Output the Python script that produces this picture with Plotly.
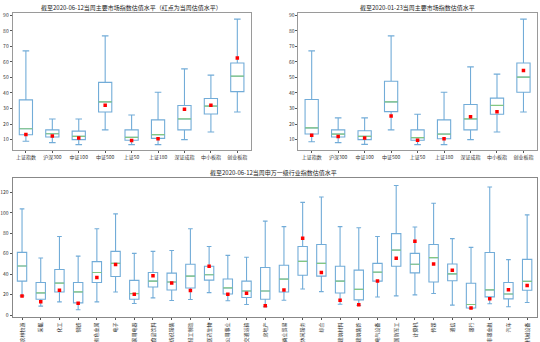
import plotly.graph_objects as go

# ---------------- data ----------------
index_names = ["上证指数", "沪深300", "中证100", "中证500", "上证50", "上证180", "深证成指", "中小板指", "创业板指"]

# 2020-06-12
a_low = [9.0, 8.1, 6.8, 16.3, 6.8, 6.8, 10.0, 14.9, 27.8]
a_q1 = [13.2, 11.7, 10.0, 27.8, 9.6, 10.8, 16.3, 26.5, 40.9]
a_med = [17.0, 13.8, 12.1, 34.3, 11.5, 13.2, 23.3, 31.6, 50.8]
a_q3 = [35.6, 16.3, 15.5, 46.8, 16.3, 22.7, 32.0, 36.5, 59.3]
a_high = [67.1, 23.3, 23.3, 76.7, 25.9, 40.5, 55.5, 51.5, 87.5]
a_cur = [13.4, 12.3, 11.0, 32.2, 9.4, 10.6, 29.5, 32.2, 62.5]

# 2020-01-23
b_low = [8.7, 8.1, 7.0, 16.3, 6.8, 6.8, 10.0, 14.9, 27.8]
b_q1 = [13.6, 11.7, 10.0, 28.0, 9.6, 10.6, 16.3, 26.3, 40.5]
b_med = [17.6, 13.6, 12.1, 34.3, 11.3, 13.6, 23.3, 32.0, 50.2]
b_q3 = [35.8, 16.3, 15.7, 47.5, 16.3, 22.7, 32.6, 36.7, 59.3]
b_high = [67.1, 24.0, 24.0, 76.7, 26.3, 40.5, 56.8, 52.1, 87.5]
b_cur = [12.8, 12.1, 11.0, 25.2, 9.6, 10.6, 24.8, 28.0, 54.4]

industries = ["农林牧渔", "采掘", "化工", "钢铁", "有色金属", "电子", "家用电器", "食品饮料",
              "纺织服装", "轻工制造", "医药生物", "公用事业", "交通运输", "房地产", "商业贸易",
              "休闲服务", "综合", "建筑材料", "建筑装饰", "电气设备", "国防军工", "计算机",
              "传媒", "通信", "银行", "非银金融", "汽车", "机械设备"]
c_low = [18.7, 8.7, 12.9, 5.2, 12.9, 22.6, 11.3, 16.8, 14.2, 15.2, 21.9, 13.9, 10.3, 8.1,
         14.5, 25.5, 22.9, 10.6, 9.4, 17.7, 18.7, 19.7, 21.0, 9.7, 6.5, 11.0, 8.1, 12.3]
c_q1 = [33.2, 15.5, 22.6, 11.9, 31.9, 37.7, 15.5, 27.4, 24.5, 26.5, 34.2, 20.6, 17.1, 15.5,
        22.6, 39.0, 38.1, 21.6, 14.8, 33.2, 47.7, 41.3, 32.3, 33.5, 6.8, 17.8, 15.8, 24.2]
c_med = [48.0, 21.6, 31.3, 22.6, 41.6, 50.6, 21.0, 33.2, 32.3, 38.1, 39.4, 26.5, 23.5, 23.5,
         35.2, 52.6, 50.6, 33.2, 25.2, 41.9, 63.6, 49.7, 56.1, 40.3, 10.3, 24.6, 20.6, 32.9]
c_q3 = [61.3, 31.9, 44.5, 31.9, 52.3, 62.3, 33.9, 41.6, 41.0, 49.7, 47.7, 35.2, 33.2, 46.5,
        48.7, 67.1, 69.0, 47.7, 43.9, 50.6, 79.7, 60.3, 69.0, 50.0, 31.1, 61.2, 31.9, 54.5]
c_high = [103.9, 55.8, 76.8, 57.7, 84.5, 99.0, 60.3, 62.3, 63.2, 84.5, 67.1, 58.4, 56.5, 91.9,
          86.5, 110.3, 115.5, 86.5, 85.5, 76.8, 126.8, 86.1, 109.4, 74.8, 66.2, 125.3, 54.2, 98.0]
c_cur = [18.7, 12.9, 24.2, 11.6, 36.8, 49.4, 20.3, 38.4, 31.3, 23.9, 47.7, 20.3, 21.3, 9.0,
         24.5, 75.2, 41.6, 14.5, 10.0, 33.2, 55.5, 72.3, 50.0, 43.9, 6.8, 15.9, 24.8, 29.0]

title_a = "截至2020-06-12当周主要市场指数估值水平（红点为当周估值水平）"
title_b = "截至2020-01-23当周主要市场指数估值水平"
title_c = "截至2020-06-12当周申万一级行业指数估值水平"

# ---------------- style ----------------
BOX_COLOR = "#72acd8"
MED_COLOR = "#82c782"
DOT_COLOR = "#ff0000"
FONT = "Noto Sans CJK SC"

fig = go.Figure()


def add_panel(cats, low, q1, med, q3, high, cur, xa, ya):
    fig.add_trace(go.Box(
        x=cats, q1=q1, median=med, q3=q3, lowerfence=low, upperfence=high,
        boxpoints=False, width=0.5, whiskerwidth=0.5,
        line=dict(color=BOX_COLOR, width=1.1), fillcolor="rgba(255,255,255,0)",
        xaxis=xa, yaxis=ya, showlegend=False, hoverinfo="skip"))
    # median line drawn as a flat box
    fig.add_trace(go.Box(
        x=cats, q1=med, median=med, q3=med, lowerfence=med, upperfence=med,
        boxpoints=False, width=0.5, whiskerwidth=0,
        line=dict(color=MED_COLOR, width=1.2), fillcolor="rgba(255,255,255,0)",
        xaxis=xa, yaxis=ya, showlegend=False, hoverinfo="skip"))
    fig.add_trace(go.Scatter(
        x=cats, y=cur, mode="markers",
        marker=dict(color=DOT_COLOR, size=3.5, symbol="square"),
        xaxis=xa, yaxis=ya, showlegend=False, hoverinfo="skip"))


add_panel(index_names, a_low, a_q1, a_med, a_q3, a_high, a_cur, "x", "y")
add_panel(index_names, b_low, b_q1, b_med, b_q3, b_high, b_cur, "x2", "y2")
add_panel(industries, c_low, c_q1, c_med, c_q3, c_high, c_cur, "x3", "y3")

W, H = 540, 342


def px_x(a, b):
    return [a / W, b / W]


def px_y(top, bottom):
    return [(H - bottom) / H, (H - top) / H]


axis_common = dict(showgrid=False, zeroline=False, showline=True, mirror=True,
                   linecolor="#9a9a9a", linewidth=1, ticks="outside", ticklen=2,
                   tickcolor="#555", tickfont=dict(size=5, color="#333", family=FONT))

fig.update_layout(
    width=W, height=H, autosize=False,
    margin=dict(l=0, r=0, t=0, b=0),
    paper_bgcolor="white", plot_bgcolor="white",
    boxmode="overlay",
    font=dict(family=FONT, color="#222"),
    xaxis=dict(domain=px_x(11.7, 250), anchor="y", type="category",
               range=[-0.5, len(index_names) - 0.5], **axis_common),
    yaxis=dict(domain=px_y(11, 150), anchor="x", range=[3.2, 91.5],
               tickvals=list(range(10, 91, 10)), **axis_common),
    xaxis2=dict(domain=px_x(298, 536.7), anchor="y2", type="category",
                range=[-0.5, len(index_names) - 0.5], **axis_common),
    yaxis2=dict(domain=px_y(11, 150), anchor="x2", range=[3.2, 91.5],
                tickvals=list(range(10, 91, 10)), **axis_common),
    xaxis3=dict(domain=px_x(11.7, 536.5), anchor="y3", type="category",
                range=[-0.5, len(industries) - 0.5], tickangle=-90, **axis_common),
    yaxis3=dict(domain=px_y(177.7, 319), anchor="x3", range=[-2.2, 134.5],
                tickvals=list(range(0, 121, 20)), **axis_common),
)

fig.update_layout(yaxis3_linecolor="#888", xaxis3_linecolor="#888", yaxis3_linewidth=1.3, xaxis3_linewidth=1.3)

for txt, xc, yc in [(title_a, 131, 6), (title_b, 417, 6), (title_c, 273, 173)]:
    fig.add_annotation(text=txt, x=xc / W, y=(H - yc) / H, xref="paper", yref="paper",
                       xanchor="center", yanchor="middle", showarrow=False,
                       font=dict(size=6, color="#222", family=FONT))

fig.write_html("out.html")
